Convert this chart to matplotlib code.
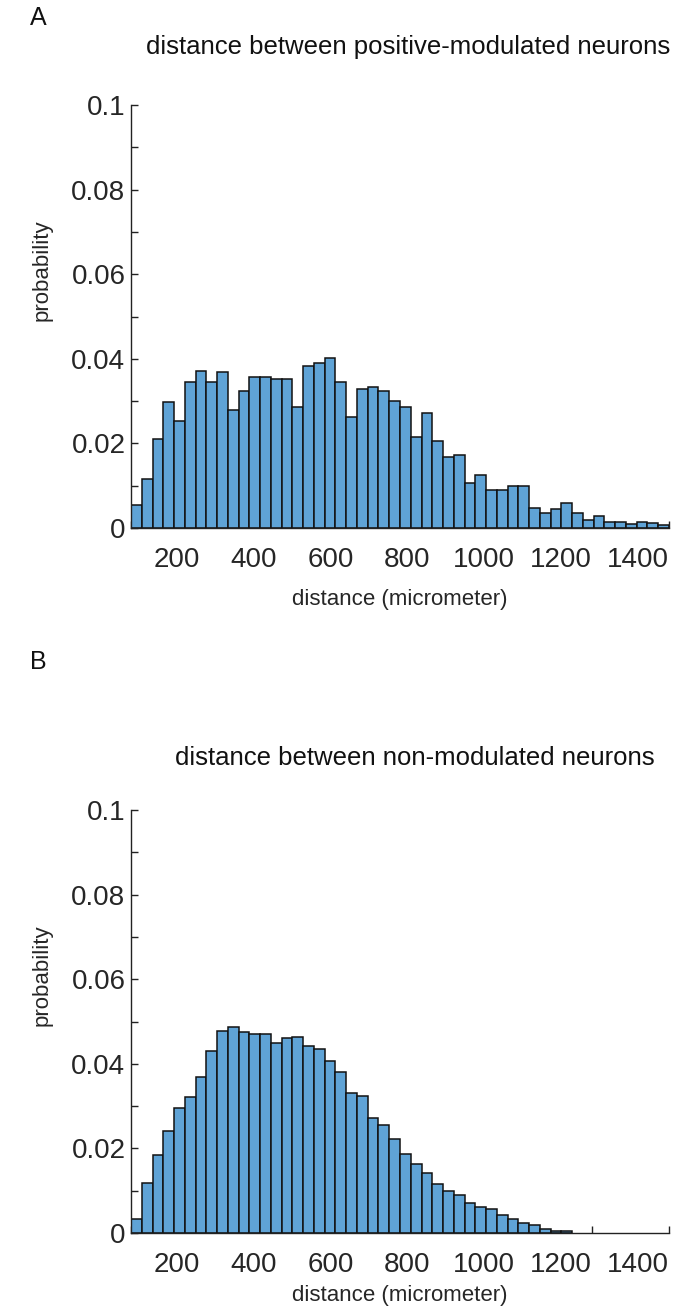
import numpy as np
import matplotlib
matplotlib.use('Agg')
import matplotlib.pyplot as plt
from matplotlib.transforms import ScaledTranslation

plt.rcParams['font.family'] = ['Liberation Sans', 'DejaVu Sans']

# histogram bins: 50 bins over 0..1400 micrometer
n_bins = 50
d_max = 1400
edges = np.linspace(0, d_max, n_bins + 1)
bin_w = edges[1] - edges[0]

prob_pos = [0.0054, 0.0115, 0.0211, 0.0297, 0.0254, 0.0344, 0.0372, 0.0344, 0.0368, 0.0278,
            0.0325, 0.0357, 0.0357, 0.0352, 0.0352, 0.0287, 0.0382, 0.0391, 0.0401, 0.0344,
            0.0262, 0.0329, 0.0333, 0.0324, 0.0301, 0.0287, 0.0215, 0.0271, 0.0206, 0.0167,
            0.0173, 0.0106, 0.0125, 0.0090, 0.0090, 0.0100, 0.0100, 0.0048, 0.0035, 0.0044,
            0.0058, 0.0035, 0.0019, 0.0029, 0.0014, 0.0014, 0.0010, 0.0015, 0.0012, 0.0006]

prob_non = [0.0033, 0.0118, 0.0185, 0.0242, 0.0295, 0.0322, 0.0369, 0.0431, 0.0478, 0.0488,
            0.0474, 0.0470, 0.0470, 0.0450, 0.0460, 0.0464, 0.0441, 0.0436, 0.0407, 0.0380,
            0.0331, 0.0323, 0.0271, 0.0256, 0.0223, 0.0186, 0.0162, 0.0143, 0.0115, 0.0100,
            0.0089, 0.0072, 0.0062, 0.0056, 0.0042, 0.0033, 0.0024, 0.0019, 0.0010, 0.0005,
            0.0005]

titles = ['distance between positive-modulated neurons',
          'distance between non-modulated neurons']
panel_letters = ['A', 'B']
xticks = [0, 200, 400, 600, 800, 1000, 1200, 1400]
xticklabels = ['', '200', '400', '600', '800', '1000', '1200', '1400']
yticks = [0, 0.02, 0.04, 0.06, 0.08, 0.1]
yticklabels = ['0', '0.02', '0.04', '0.06', '0.08', '0.1']

bar_color = '#5fa3d6'
text_color = '#262626'

fig = plt.figure(figsize=(6.88, 13.15), dpi=100)
W, H = 688, 1315

def px_axes(left, top, right, bottom):
    return fig.add_axes([left / W, 1 - bottom / H, (right - left) / W, (bottom - top) / H])

ax_a = px_axes(131, 105, 669, 528)
ax_b = px_axes(131, 810, 669, 1233)

for ax, vals, title in zip([ax_a, ax_b], [prob_pos, prob_non], titles):
    ax.bar(edges[:len(vals)], vals, width=bin_w, align='edge',
           color=bar_color, edgecolor='#111111', linewidth=1.1, zorder=2)
    ax.set_xlim(0, d_max)
    ax.set_ylim(0, 0.1)
    for s in ['top', 'right']:
        ax.spines[s].set_visible(False)
    for s in ['left', 'bottom']:
        ax.spines[s].set_color('#222222')
        ax.spines[s].set_linewidth(1.0)
        ax.spines[s].set_zorder(3)

    ax.set_yticks(yticks)
    ax.set_yticklabels(yticklabels)
    ax.set_yticks(np.arange(0.01, 0.1, 0.02), minor=True)
    ax.set_xticks(xticks)
    ax.set_xticklabels(xticklabels)
    ax.tick_params(axis='both', which='both', direction='in', length=5, width=1.0,
                   color='#222222', labelcolor=text_color, labelsize=20)
    ax.tick_params(axis='y', pad=4)
    ax.tick_params(axis='x', pad=14)

    # x labels sit a bit left of their ticks
    shift = ScaledTranslation(-0.31, 0, fig.dpi_scale_trans)
    for lab in ax.get_xticklabels():
        lab.set_transform(lab.get_transform() + shift)

    ax.set_ylabel('probability', fontsize=16, color=text_color)
    ax.yaxis.set_label_coords(-0.145, 0.61)

ax_a.set_xlabel('distance (micrometer)', fontsize=16, color=text_color, labelpad=11)
ax_b.set_xlabel('distance (micrometer)', fontsize=16, color=text_color, labelpad=5)

fig.text(408 / W, 1 - 47 / H, titles[0], ha='center', va='center', fontsize=18.5, color='#111111')
fig.text(415 / W, 1 - 758 / H, titles[1], ha='center', va='center', fontsize=18.5, color='#111111')
fig.text(30 / W, 1 - 18 / H, panel_letters[0], ha='left', va='center', fontsize=18, color='#111111')
fig.text(30 / W, 1 - 662 / H, panel_letters[1], ha='left', va='center', fontsize=18, color='#111111')

fig.savefig('out.png', dpi=100)
